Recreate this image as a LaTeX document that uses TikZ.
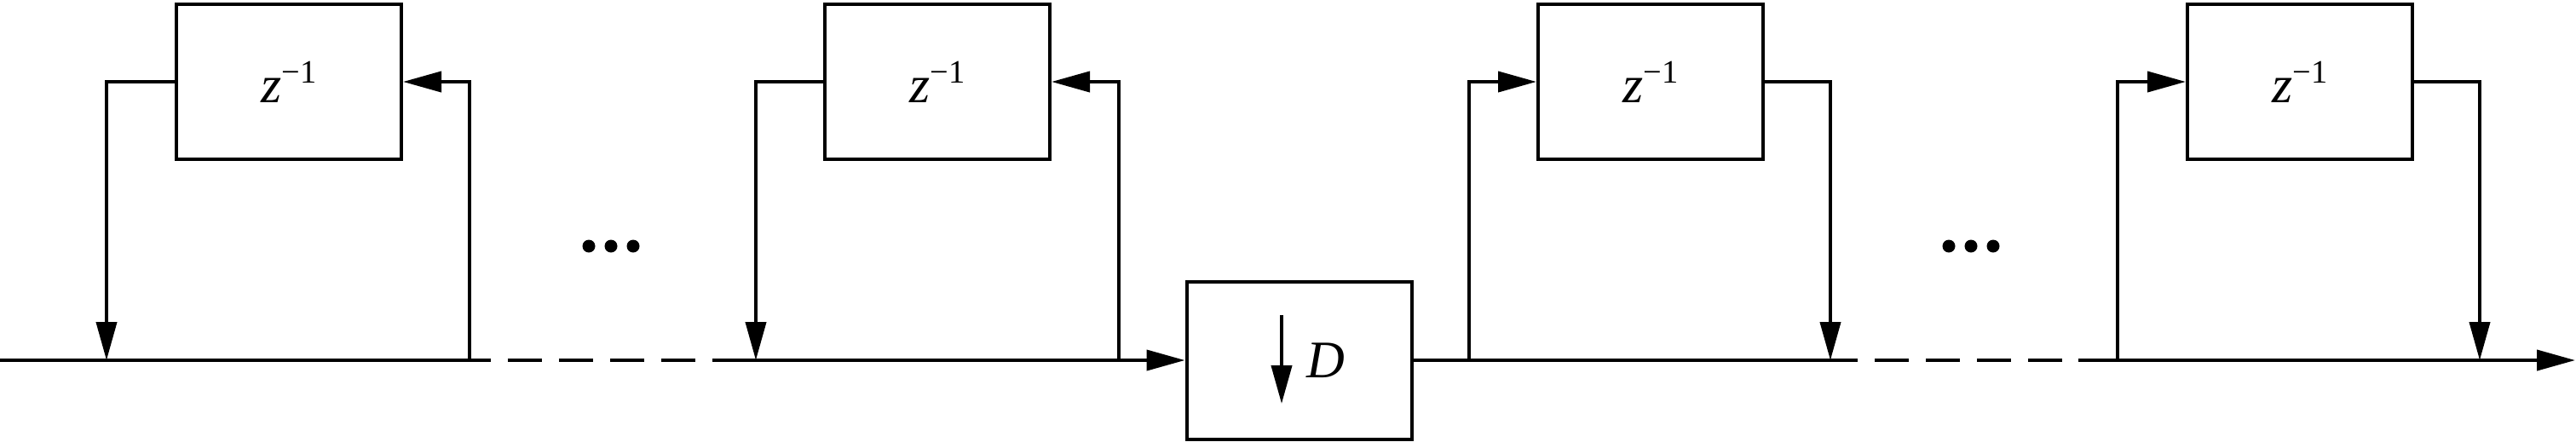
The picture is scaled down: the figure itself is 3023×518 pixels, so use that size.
\documentclass[tikz,border=0pt]{standalone}
\usepackage{fontspec}
\setmainfont{Liberation Serif}
\usetikzlibrary{arrows.meta}
\newcommand{\zinv}{{\fontsize{15.5pt}{18pt}\selectfont\itshape z}\raisebox{5.75pt}{\fontsize{9.6pt}{11pt}\selectfont −1}}
\tikzset{
  blk/.style={draw, line width=1pt, minimum width=66pt, minimum height=45.5pt, inner sep=0pt},
  wire/.style={line width=1pt},
  arr/.style={wire, -{Triangle[length=11.25pt, width=6pt]}},
  dsh/.style={wire, dash pattern=on 10pt off 5pt, dash phase=10pt},
  dotmark/.style={fill=black}
}
\begin{document}
\begin{tikzpicture}[x=0.25pt, y=-0.25pt]
\useasboundingbox (0,0) rectangle (3023,518);
% blocks
\node[blk] (b1) at (339,96) {\zinv};
\node[blk] (b2) at (1100,96) {\zinv};
\node[blk] (b3) at (1937,96) {\zinv};
\node[blk] (b4) at (2699,96) {\zinv};
\node[blk, minimum height=46.25pt] (dn) at (1524.5,423) {};
\node[anchor=base west, inner sep=0pt, font=\fontsize{15.5pt}{18pt}\selectfont\itshape] (dl) at (1533,443) {D};
% coordinates on the main line
\coordinate (in) at (0,423);
\coordinate (j1a) at (125,423);
\coordinate (j1b) at (551,423);
\coordinate (ds1) at (576,423);
\coordinate (de1) at (836,423);
\coordinate (j2a) at (887,423);
\coordinate (j2b) at (1313,423);
\coordinate (j3a) at (1724,423);
\coordinate (j3b) at (2148,423);
\coordinate (ds2) at (2180,423);
\coordinate (de2) at (2439,423);
\coordinate (j4a) at (2485,423);
\coordinate (j4b) at (2910,423);
\coordinate (out) at (3022,423);
\coordinate (dat) at (1504,370);
\coordinate (dab) at (1504,474);
% main line
\draw[wire] (in) -- (ds1);
\draw[dsh] (ds1) -- (de1);
\draw[arr] (de1) -- (dn.west);
\draw[wire] (dn.east) -- (ds2);
\draw[dsh] (ds2) -- (de2);
\draw[arr] (de2) -- (out);
% feedback / feedforward loops
\draw[arr] (b1.west) -| (j1a);
\draw[arr] (j1b) |- (b1.east);
\draw[arr] (b2.west) -| (j2a);
\draw[arr] (j2b) |- (b2.east);
\draw[arr] (j3a) |- (b3.west);
\draw[arr] (b3.east) -| (j3b);
\draw[arr] (j4a) |- (b4.west);
\draw[arr] (b4.east) -| (j4b);
% downsampler arrow
\draw[arr] (dat) -- (dab);
% dots
\fill[dotmark] (691,289) circle[radius=1.875pt];
\fill[dotmark] (717,289) circle[radius=1.875pt];
\fill[dotmark] (743,289) circle[radius=1.875pt];
\fill[dotmark] (2287,289) circle[radius=1.875pt];
\fill[dotmark] (2313,289) circle[radius=1.875pt];
\fill[dotmark] (2339,289) circle[radius=1.875pt];
\end{tikzpicture}
\end{document}
